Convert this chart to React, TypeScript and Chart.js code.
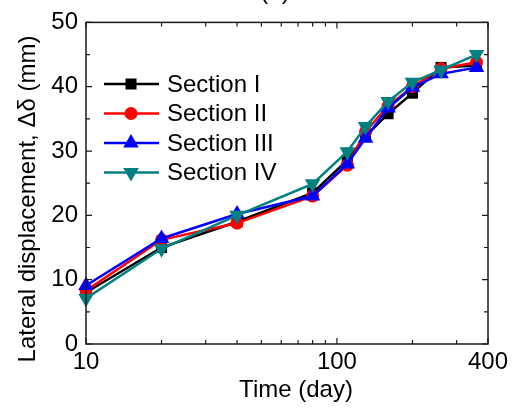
import React, { useEffect, useRef } from 'react';
import { Chart, registerables } from 'chart.js';

Chart.register(...registerables);

const days = [10, 20, 40, 80, 110, 130, 160, 200, 260, 360];
const sectionI = [8, 15, 19, 23.5, 28.6, 32.3, 35.8, 39, 43, 43.3];
const sectionII = [8.3, 16.2, 18.8, 23, 27.8, 33, 37, 40, 42.8, 43.8];
const sectionIII = [9.1, 16.4, 20.2, 23, 28, 32, 36.7, 39.9, 42, 43];
const sectionIV = [7.1, 14.8, 20, 24.9, 29.9, 33.8, 37.7, 40.7, 42.6, 45];

const seriesNames = ['Section I', 'Section II', 'Section III', 'Section IV'];
const seriesValues = [sectionI, sectionII, sectionIII, sectionIV];
const seriesColors = ['#000000', '#ff0000', '#0000ff', '#008080'];
const seriesMarkers = ['rect', 'circle', 'triangle', 'triangleDown'];
const seriesRadius = [7.8, 6.5, 9, 9];

const xTickValues = [10, 100, 400];
const xMinorValues = [20, 30, 40, 50, 60, 70, 80, 90, 200, 300];
const yTickValues = [0, 10, 20, 30, 40, 50];
const yMinorValues = [5, 15, 25, 35, 45];
const xTitle = 'Time (day)';
const yTitle = 'Lateral displacement, \u0394\u03b4 (mm)';
const panelLabel = '(a)';

const FONT = '"Liberation Sans", Arial, Helvetica, sans-serif';

function drawMarker(ctx: CanvasRenderingContext2D, shape: string, x: number, y: number, r: number, color: string) {
  ctx.save();
  ctx.fillStyle = color;
  ctx.beginPath();
  if (shape === 'rect') {
    const s = r * Math.SQRT1_2;
    ctx.rect(x - s, y - s, 2 * s, 2 * s);
  } else if (shape === 'circle') {
    ctx.arc(x, y, r, 0, Math.PI * 2);
  } else {
    const dir = shape === 'triangle' ? 1 : -1;
    const hw = r * Math.sqrt(3) / 2;
    ctx.moveTo(x, y - dir * r);
    ctx.lineTo(x + hw, y + dir * r / 2);
    ctx.lineTo(x - hw, y + dir * r / 2);
    ctx.closePath();
  }
  ctx.fill();
  ctx.restore();
}

const framePlugin = {
  id: 'frameAndText',
  afterDraw(chart: any) {
    const { ctx, chartArea: a, scales } = chart;
    const xs = scales.x;
    const ys = scales.y;
    ctx.save();
    ctx.strokeStyle = '#1a1a1a';
    ctx.lineWidth = 1.5;
    ctx.strokeRect(a.left, a.top, a.right - a.left, a.bottom - a.top);
    ctx.lineWidth = 1.2;
    ctx.beginPath();
    const xt = (v: number, len: number) => {
      const px = xs.getPixelForValue(v);
      ctx.moveTo(px, a.bottom); ctx.lineTo(px, a.bottom - len);
      ctx.moveTo(px, a.top); ctx.lineTo(px, a.top + len);
    };
    const yt = (v: number, len: number) => {
      const py = ys.getPixelForValue(v);
      ctx.moveTo(a.left, py); ctx.lineTo(a.left + len, py);
      ctx.moveTo(a.right, py); ctx.lineTo(a.right - len, py);
    };
    xTickValues.forEach((v) => xt(v, 6));
    xMinorValues.forEach((v) => xt(v, 4));
    yTickValues.forEach((v) => yt(v, 6));
    yMinorValues.forEach((v) => yt(v, 4));
    ctx.stroke();

    ctx.fillStyle = '#000';
    ctx.font = `24px ${FONT}`;
    ctx.textAlign = 'center';
    ctx.textBaseline = 'alphabetic';
    ctx.fillText(xTitle, 296, 397);
    ctx.fillText(panelLabel, 275, -1);
    ctx.save();
    ctx.translate(35, 199);
    ctx.rotate(-Math.PI / 2);
    ctx.fillText(yTitle, 0, 0);
    ctx.restore();

    seriesNames.forEach((name, i) => {
      const y = 84 + i * 29.5;
      ctx.strokeStyle = seriesColors[i];
      ctx.lineWidth = 2.5;
      ctx.beginPath();
      ctx.moveTo(104, y);
      ctx.lineTo(159, y);
      ctx.stroke();
      drawMarker(ctx, seriesMarkers[i], 131, y, seriesRadius[i], seriesColors[i]);
      ctx.fillStyle = '#000';
      ctx.textAlign = 'left';
      ctx.textBaseline = 'middle';
      ctx.fillText(name, 167, y + 1);
    });
    ctx.restore();
  },
};

export default function App() {
  const ref = useRef<HTMLCanvasElement | null>(null);

  useEffect(() => {
    if (!ref.current) return;
    const datasets = seriesNames.map((name, i) => ({
      label: name,
      data: days.map((d, j) => ({ x: d, y: seriesValues[i][j] })),
      borderColor: seriesColors[i],
      backgroundColor: seriesColors[i],
      borderWidth: 2.5,
      pointStyle: seriesMarkers[i] === 'triangleDown' ? 'triangle' : seriesMarkers[i],
      rotation: seriesMarkers[i] === 'triangleDown' ? 180 : 0,
      pointRadius: seriesRadius[i],
      pointBorderWidth: 0,
      pointHoverRadius: seriesRadius[i],
      tension: 0,
      clip: false as any,
      order: seriesNames.length - i,
    }));

    const chart = new Chart(ref.current, {
      type: 'line',
      data: { datasets },
      options: {
        animation: false,
        responsive: false,
        maintainAspectRatio: false,
        layout: { padding: { top: 20, right: 31, left: 0, bottom: 0 } },
        plugins: { legend: { display: false }, tooltip: { enabled: false }, title: { display: false } },
        scales: {
          x: {
            type: 'logarithmic',
            min: 10,
            max: 400,
            grid: { display: false, drawTicks: false },
            border: { display: false },
            afterBuildTicks: (s: any) => {
              s.ticks = xTickValues.map((v) => ({ value: v }));
            },
            afterFit: (s: any) => {
              s.height = 66;
            },
            ticks: {
              autoSkip: false,
              maxRotation: 0,
              padding: 4,
              color: '#000',
              font: { family: FONT, size: 24 },
              callback: (v: any) => String(v),
            },
          },
          y: {
            type: 'linear',
            min: 0,
            max: 50,
            grid: { display: false, drawTicks: false },
            border: { display: false },
            afterBuildTicks: (s: any) => {
              s.ticks = yTickValues.map((v) => ({ value: v }));
            },
            afterFit: (s: any) => {
              s.width = 86;
            },
            ticks: {
              padding: 8,
              color: '#000',
              font: { family: FONT, size: 24 },
              callback: (v: any) => String(v),
            },
          },
        },
      },
      plugins: [framePlugin],
    });
    return () => chart.destroy();
  }, []);

  return (
    <div style={{ position: 'fixed', left: 0, top: 0, width: 519, height: 410, background: '#fff' }}>
      <canvas ref={ref} width={519} height={410} style={{ display: 'block', width: 519, height: 410 }} />
    </div>
  );
}
